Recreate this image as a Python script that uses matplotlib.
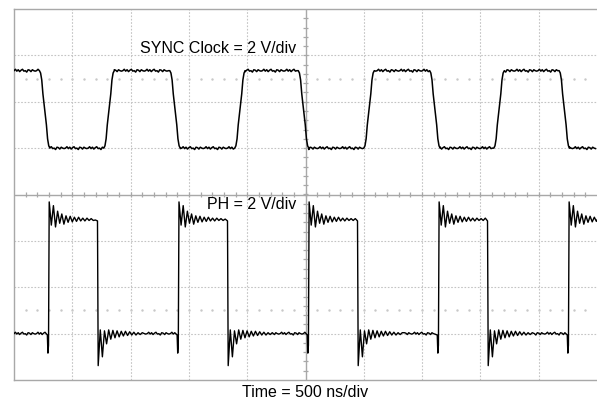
import numpy as np
import matplotlib.pyplot as plt

plt.rcParams['font.family'] = ['Liberation Sans', 'DejaVu Sans']

# time axis in microseconds (10 div x 500 ns), vertical axis in divisions
time_span = 5.0

# SYNC clock, 2 V/div (levels in div)
sync_high = 2.67
sync_low = 1.00
sync_fall = [0.263, 1.381, 2.483, 3.610, 4.720]
sync_rise = [0.815, 1.938, 3.045, 4.160]
sync_edge_dt = [-0.045, -0.035, -0.025, -0.015, 0.0, 0.015, 0.025, 0.035, 0.045]
sync_edge_frac = [0.0, 0.03, 0.12, 0.30, 0.50, 0.70, 0.88, 0.97, 1.0]

# PH switch node, 2 V/div
ph_low = -3.00
ph_high_start = -0.54
ph_high_end = -0.57
ph_rise = [0.298, 1.411, 2.527, 3.642, 4.757]
ph_fall = [0.718, 1.833, 2.948, 4.063]
ring_step = 0.018
ph_ring_rise = [0.38, -0.12, 0.30, -0.16, 0.18, -0.08, 0.12, -0.10, 0.08, -0.06, 0.07,
                -0.05, 0.05, -0.04, 0.05, -0.03, 0.03, -0.03, 0.03, -0.02, 0.02, -0.02]
ph_ring_fall = [-0.69, 0.08, -0.50, 0.06, -0.22, 0.08, -0.12, 0.07, -0.09, 0.06, -0.07,
                0.05, -0.05, 0.05, -0.04, 0.04, -0.03, 0.03, -0.03, 0.02, -0.02, 0.02]
ph_pre_rise = [-0.03, -0.42, -0.25]

# small trace fuzz
ripple = [0.00, 0.03, -0.01, 0.02, -0.02, 0.01, 0.03, -0.01,
          0.00, -0.03, 0.02, 0.01, -0.02, 0.02, 0.00, -0.01]
ripple_step = 0.012


def flat(t0, t1, v0, v1, ts, vs, k0=0):
    n = max(int((t1 - t0) / ripple_step), 1)
    for i in range(n):
        t = t0 + i * (t1 - t0) / n
        v = v0 + (v1 - v0) * i / n
        ts.append(t)
        vs.append(v + ripple[(i + k0) % len(ripple)])


def sync_trace():
    ts, vs = [], []
    edges = sorted([(t, -1) for t in sync_fall] + [(t, 1) for t in sync_rise])
    level = sync_high
    cursor = 0.0
    k = 0
    for te, d in edges:
        flat(cursor, te + sync_edge_dt[0], level, level, ts, vs, k)
        k += 5
        other = sync_low if d < 0 else sync_high
        for dt, f in zip(sync_edge_dt, sync_edge_frac):
            ts.append(te + dt)
            vs.append(level + (other - level) * f)
        level = other
        cursor = te + sync_edge_dt[-1]
    flat(cursor, time_span, level, level, ts, vs, k)
    return ts, vs


def ph_trace():
    ts, vs = [], []
    edges = sorted([(t, 1) for t in ph_rise] + [(t, -1) for t in ph_fall])
    cursor = 0.0
    high = False
    k = 0
    for te, d in edges:
        if d > 0:
            flat(cursor, te - 0.02, ph_low, ph_low, ts, vs, k)
            for j, off in enumerate(ph_pre_rise):
                ts.append(te - 0.012 + j * 0.005)
                vs.append(ph_low + off)
            for j, off in enumerate(ph_ring_rise):
                ts.append(te + 0.004 + j * ring_step)
                vs.append(ph_high_start + off)
            cursor = te + 0.004 + len(ph_ring_rise) * ring_step
            high = True
        else:
            flat(cursor, te - 0.004, ph_high_start, ph_high_end, ts, vs, k)
            ts.append(te - 0.002)
            vs.append(ph_high_end)
            for j, off in enumerate(ph_ring_fall):
                ts.append(te + 0.004 + j * ring_step)
                vs.append(ph_low + off)
            cursor = te + 0.004 + len(ph_ring_fall) * ring_step
            high = False
        k += 7
    if high:
        flat(cursor, time_span, ph_high_start, ph_high_start, ts, vs, k)
    else:
        flat(cursor, time_span, ph_low, ph_low, ts, vs, k)
    return ts, vs


fig = plt.figure(figsize=(5.97, 4.02), dpi=100)
ax = fig.add_axes([14 / 597, 1 - 381 / 402, 583 / 597, 371 / 402])
ax.set_xlim(0, time_span)
ax.set_ylim(-4, 4)
ax.set_xticks([])
ax.set_yticks([])
for s in ['left', 'top', 'bottom']:
    ax.spines[s].set_color('#a8a8a8')
    ax.spines[s].set_linewidth(1.0)
ax.spines['right'].set_visible(False)

grid_c = '#c4c4c4'
for i in range(1, 10):
    if i != 5:
        ax.axvline(i * 0.5, color=grid_c, lw=0.8, ls=(0, (1.5, 1.5)), zorder=1)
for j in range(-3, 4):
    if j != 0:
        ax.axhline(j, color=grid_c, lw=0.8, ls=(0, (1.5, 1.5)), zorder=1)

# center graticule with minor ticks
ax.axvline(2.5, color='#a8a8a8', lw=1.0, zorder=1)
ax.axhline(0, color='#a8a8a8', lw=1.0, zorder=1)
xs = np.arange(0.1, time_span, 0.1)
ys = np.arange(-3.8, 4.0, 0.2)
ax.vlines(xs, -0.055, 0.055, color='#a8a8a8', lw=0.9, zorder=1)
ax.hlines(ys, 2.5 - 0.022, 2.5 + 0.022, color='#a8a8a8', lw=0.9, zorder=1)
for yy in (2.5, -2.5):
    ax.plot(xs, np.full_like(xs, yy), ls='none', marker='s', ms=0.7,
            color='#c8c8c8', zorder=1)

t1, v1 = sync_trace()
t2, v2 = ph_trace()
ax.plot(t1, v1, color='black', lw=1.1, zorder=3)
ax.plot(t2, v2, color='black', lw=1.0, zorder=3)

ax.text(2.418, 3.18, 'SYNC Clock = 2 V/div', ha='right', va='center',
        fontsize=11.5, zorder=4)
ax.text(2.418, -0.19, 'PH = 2 V/div', ha='right', va='center',
        fontsize=11.5, zorder=4)
fig.text(305.5 / 597, 1 - 393 / 402, 'Time = 500 ns/div', ha='center', va='center',
         fontsize=11.5)

fig.savefig('out.png', dpi=100)
